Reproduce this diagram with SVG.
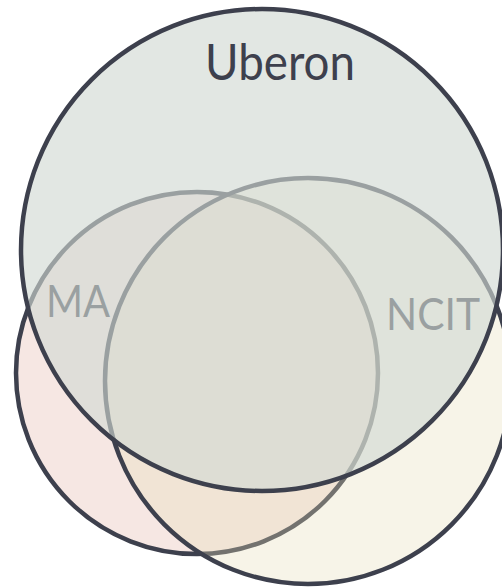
<svg xmlns="http://www.w3.org/2000/svg" width="502" height="587" viewBox="0 0 502 587">
  <style>
    .set { stroke: #3d404d; stroke-width: 4.5; }
    .label { font-family: Lato, "Noto Sans", sans-serif; font-weight: 400; fill: #3d404d; }
  </style>
  <rect width="502" height="587" fill="#ffffff"/>
  <!-- lower sets first; the Uberon fill is drawn over them and tones their outlines and labels -->
  <g id="ma">
    <circle class="set" cx="197" cy="373" r="181" fill="#f6e7e3"/>
  </g>
  <g id="ncit">
    <circle class="set" cx="308" cy="381" r="203" fill="#e6ddb7" fill-opacity="0.32"/>
  </g>
  <g id="labels-under">
    <text class="label" x="46" y="317" font-size="44" textLength="64" lengthAdjust="spacingAndGlyphs">MA</text>
    <text class="label" x="386" y="330" font-size="44" textLength="94" lengthAdjust="spacingAndGlyphs">NCIT</text>
  </g>
  <g id="uberon">
    <circle cx="262" cy="250" r="241" fill="#d1d9d2" fill-opacity="0.63"/>
    <circle class="set" cx="262" cy="250" r="241" fill="none"/>
    <text class="label" x="205" y="80" font-size="50" textLength="150" lengthAdjust="spacingAndGlyphs">Uberon</text>
  </g>
</svg>
